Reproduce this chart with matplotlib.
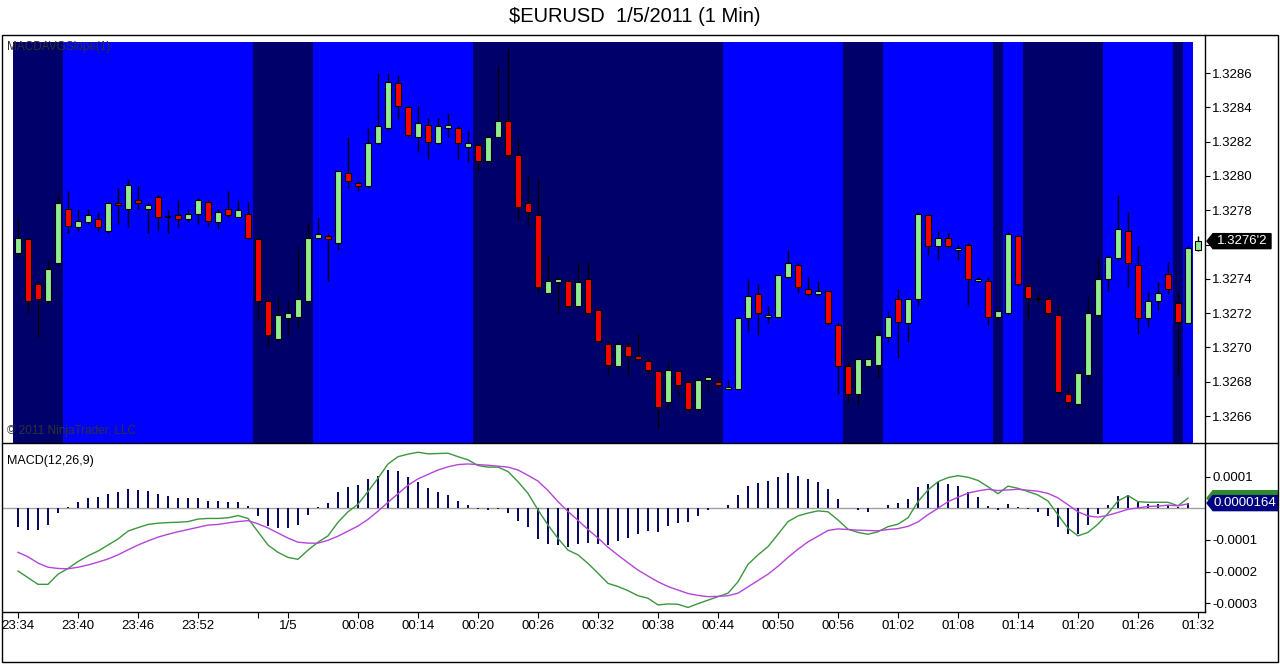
import numpy as np
import matplotlib
matplotlib.use('Agg')
from matplotlib import pyplot as plt
from matplotlib.patches import Rectangle, Polygon
from matplotlib.lines import Line2D
from matplotlib.transforms import blended_transform_factory

plt.rcParams['font.family'] = ['Liberation Sans', 'DejaVu Sans']

# 1 minute bars, 23:34 -> 01:32
opens = [1.32755, 1.32763, 1.32737, 1.32727, 1.32749, 1.32781, 1.32770, 1.32773, 1.32775, 1.32768,
         1.32784, 1.32781, 1.32786, 1.32781, 1.32788, 1.32776, 1.32777, 1.32775, 1.32778, 1.32785,
         1.32773, 1.32781, 1.32776, 1.32778, 1.32763, 1.32727, 1.32705, 1.32717, 1.32718, 1.32727,
         1.32764, 1.32765, 1.32761, 1.32802, 1.32796, 1.32794, 1.32819, 1.32828, 1.32854, 1.32840,
         1.32823, 1.32830, 1.32819, 1.32828, 1.32828, 1.32817, 1.32818, 1.32809, 1.32823, 1.32832,
         1.32812, 1.32784, 1.32777, 1.32732, 1.32738, 1.32739, 1.32724, 1.32740, 1.32722, 1.32702,
         1.32689, 1.32701, 1.32695, 1.32692, 1.32686, 1.32668, 1.32686, 1.32680, 1.32664, 1.32681,
         1.32680, 1.32676, 1.32676, 1.32717, 1.32731, 1.32718, 1.32718, 1.32741, 1.32748, 1.32734,
         1.32731, 1.32733, 1.32713, 1.32689, 1.32673, 1.32689, 1.32690, 1.32706, 1.32728, 1.32714,
         1.32728, 1.32777, 1.32759, 1.32764, 1.32757, 1.32760, 1.32739, 1.32739, 1.32718, 1.32720,
         1.32765, 1.32736, 1.32728, 1.32728, 1.32719, 1.32673, 1.32667, 1.32684, 1.32719, 1.32740,
         1.32752, 1.32768, 1.32748, 1.32717, 1.32727, 1.32743, 1.32726, 1.32714, 1.32757]
highs = [1.32776, 1.32764, 1.32739, 1.32751, 1.32790, 1.32791, 1.32781, 1.32781, 1.32779, 1.32785,
         1.32793, 1.32798, 1.32794, 1.32785, 1.32789, 1.32780, 1.32786, 1.32781, 1.32787, 1.32786,
         1.32781, 1.32791, 1.32786, 1.32785, 1.32764, 1.32728, 1.32730, 1.32727, 1.32759, 1.32772,
         1.32776, 1.32767, 1.32803, 1.32823, 1.32797, 1.32828, 1.32860, 1.32860, 1.32859, 1.32841,
         1.32841, 1.32834, 1.32834, 1.32837, 1.32829, 1.32826, 1.32819, 1.32824, 1.32864, 1.32874,
         1.32823, 1.32800, 1.32798, 1.32754, 1.32741, 1.32740, 1.32749, 1.32750, 1.32723, 1.32704,
         1.32703, 1.32703, 1.32708, 1.32693, 1.32687, 1.32692, 1.32687, 1.32681, 1.32682, 1.32684,
         1.32683, 1.32681, 1.32718, 1.32740, 1.32737, 1.32724, 1.32742, 1.32757, 1.32749, 1.32741,
         1.32739, 1.32733, 1.32715, 1.32692, 1.32693, 1.32693, 1.32710, 1.32721, 1.32734, 1.32729,
         1.32779, 1.32778, 1.32768, 1.32767, 1.32760, 1.32761, 1.32741, 1.32741, 1.32721, 1.32768,
         1.32766, 1.32737, 1.32732, 1.32731, 1.32725, 1.32678, 1.32687, 1.32730, 1.32752, 1.32754,
         1.32789, 1.32779, 1.32759, 1.32733, 1.32738, 1.32750, 1.32731, 1.32759, 1.32765]
lows = [1.32753, 1.32720, 1.32706, 1.32726, 1.32748, 1.32767, 1.32768, 1.32772, 1.32768, 1.32767,
        1.32772, 1.32770, 1.32781, 1.32767, 1.32768, 1.32767, 1.32770, 1.32773, 1.32772, 1.32771,
        1.32769, 1.32776, 1.32776, 1.32763, 1.32716, 1.32701, 1.32704, 1.32707, 1.32712, 1.32726,
        1.32763, 1.32739, 1.32757, 1.32793, 1.32791, 1.32793, 1.32818, 1.32827, 1.32833, 1.32823,
        1.32814, 1.32810, 1.32818, 1.32823, 1.32810, 1.32808, 1.32803, 1.32808, 1.32822, 1.32810,
        1.32774, 1.32771, 1.32732, 1.32731, 1.32720, 1.32723, 1.32723, 1.32719, 1.32703, 1.32684,
        1.32688, 1.32684, 1.32692, 1.32684, 1.32653, 1.32664, 1.32672, 1.32663, 1.32663, 1.32674,
        1.32677, 1.32676, 1.32675, 1.32709, 1.32707, 1.32714, 1.32717, 1.32740, 1.32732, 1.32730,
        1.32730, 1.32713, 1.32673, 1.32668, 1.32666, 1.32688, 1.32683, 1.32703, 1.32694, 1.32703,
        1.32724, 1.32754, 1.32751, 1.32758, 1.32751, 1.32724, 1.32738, 1.32713, 1.32716, 1.32719,
        1.32736, 1.32717, 1.32726, 1.32718, 1.32673, 1.32664, 1.32666, 1.32679, 1.32718, 1.32733,
        1.32751, 1.32735, 1.32708, 1.32712, 1.32722, 1.32731, 1.32684, 1.32714, 1.32756]
closes = [1.32764, 1.32727, 1.32728, 1.32746, 1.32784, 1.32771, 1.32774, 1.32777, 1.32770, 1.32784,
          1.32783, 1.32795, 1.32784, 1.32783, 1.32776, 1.32776, 1.32775, 1.32778, 1.32786, 1.32774,
          1.32779, 1.32777, 1.32780, 1.32764, 1.32727, 1.32707, 1.32719, 1.32720, 1.32728, 1.32764,
          1.32766, 1.32763, 1.32803, 1.32797, 1.32794, 1.32819, 1.32829, 1.32855, 1.32841, 1.32824,
          1.32831, 1.32820, 1.32829, 1.32830, 1.32819, 1.32819, 1.32809, 1.32823, 1.32832, 1.32812,
          1.32782, 1.32779, 1.32735, 1.32739, 1.32740, 1.32724, 1.32738, 1.32720, 1.32704, 1.32690,
          1.32702, 1.32695, 1.32693, 1.32687, 1.32665, 1.32687, 1.32678, 1.32664, 1.32681, 1.32683,
          1.32678, 1.32677, 1.32717, 1.32730, 1.32720, 1.32719, 1.32742, 1.32749, 1.32735, 1.32731,
          1.32733, 1.32714, 1.32689, 1.32673, 1.32693, 1.32693, 1.32707, 1.32718, 1.32715, 1.32728,
          1.32778, 1.32759, 1.32764, 1.32759, 1.32758, 1.32740, 1.32740, 1.32718, 1.32721, 1.32766,
          1.32737, 1.32729, 1.32729, 1.32720, 1.32674, 1.32668, 1.32685, 1.32720, 1.32740, 1.32753,
          1.32769, 1.32749, 1.32717, 1.32727, 1.32732, 1.32734, 1.32715, 1.32758, 1.32762]

# MACDAVGSlope background: 1 = rising (bright blue), 0 = falling (dark)
slope_up = [0, 0, 0, 0, 0, 1, 1, 1, 1, 1, 1, 1, 1, 1, 1, 1, 1, 1, 1, 1,
            1, 1, 1, 1, 0, 0, 0, 0, 0, 0, 1, 1, 1, 1, 1, 1, 1, 1, 1, 1,
            1, 1, 1, 1, 1, 1, 0, 0, 0, 0, 0, 0, 0, 0, 0, 0, 0, 0, 0, 0,
            0, 0, 0, 0, 0, 0, 0, 0, 0, 0, 0, 1, 1, 1, 1, 1, 1, 1, 1, 1,
            1, 1, 1, 0, 0, 0, 0, 1, 1, 1, 1, 1, 1, 1, 1, 1, 1, 1, 0, 1,
            1, 0, 0, 0, 0, 0, 0, 0, 0, 1, 1, 1, 1, 1, 1, 1, 0, 1]

# MACD(12,26,9) in units of 0.0001
macd = [-1.98, -2.19, -2.40, -2.40, -2.08, -1.90, -1.68, -1.50, -1.35, -1.16,
        -0.97, -0.72, -0.61, -0.51, -0.47, -0.45, -0.44, -0.42, -0.34, -0.32,
        -0.32, -0.30, -0.23, -0.32, -0.74, -1.16, -1.39, -1.55, -1.61, -1.32,
        -1.07, -0.87, -0.44, -0.11, 0.13, 0.53, 0.95, 1.40, 1.63, 1.71,
        1.77, 1.72, 1.73, 1.74, 1.63, 1.53, 1.35, 1.30, 1.30, 1.16,
        0.84, 0.47, -0.05, -0.53, -0.95, -1.32, -1.47, -1.74, -2.05, -2.37,
        -2.47, -2.60, -2.76, -2.84, -3.05, -3.02, -3.03, -3.13, -3.01, -2.90,
        -2.79, -2.68, -2.32, -1.77, -1.47, -1.21, -0.82, -0.42, -0.24, -0.15,
        -0.08, -0.11, -0.37, -0.66, -0.76, -0.82, -0.74, -0.58, -0.50, -0.30,
        0.21, 0.58, 0.84, 0.97, 1.03, 0.98, 0.88, 0.68, 0.46, 0.70,
        0.63, 0.53, 0.42, 0.23, -0.21, -0.63, -0.87, -0.76, -0.50, -0.16,
        0.23, 0.40, 0.21, 0.19, 0.19, 0.19, 0.08, 0.32]
signal = [-1.39, -1.53, -1.73, -1.86, -1.90, -1.91, -1.86, -1.79, -1.70, -1.60,
          -1.47, -1.31, -1.16, -1.03, -0.91, -0.82, -0.74, -0.67, -0.60, -0.53,
          -0.51, -0.46, -0.42, -0.39, -0.49, -0.62, -0.78, -0.94, -1.07, -1.10,
          -1.10, -1.01, -0.88, -0.72, -0.56, -0.35, -0.09, 0.19, 0.46, 0.73,
          0.93, 1.07, 1.21, 1.31, 1.38, 1.40, 1.38, 1.36, 1.33, 1.30,
          1.21, 1.04, 0.86, 0.56, 0.21, -0.10, -0.38, -0.67, -0.94, -1.23,
          -1.48, -1.72, -1.95, -2.14, -2.32, -2.47, -2.58, -2.69, -2.75, -2.79,
          -2.78, -2.76, -2.68, -2.48, -2.28, -2.08, -1.83, -1.55, -1.29, -1.06,
          -0.88, -0.70, -0.65, -0.67, -0.69, -0.70, -0.71, -0.67, -0.64, -0.57,
          -0.43, -0.20, 0.00, 0.21, 0.35, 0.48, 0.55, 0.60, 0.56, 0.58,
          0.60, 0.57, 0.54, 0.47, 0.33, 0.11, -0.11, -0.24, -0.28, -0.22,
          -0.13, -0.03, 0.01, 0.06, 0.07, 0.10, 0.08, 0.14]
hist = [-0.58, -0.68, -0.68, -0.53, -0.16, 0.04, 0.21, 0.34, 0.37, 0.46,
        0.53, 0.62, 0.59, 0.56, 0.45, 0.39, 0.34, 0.31, 0.34, 0.24,
        0.24, 0.21, 0.21, 0.07, -0.23, -0.56, -0.61, -0.61, -0.53, -0.20,
        0.04, 0.17, 0.52, 0.67, 0.74, 0.91, 1.02, 1.21, 1.19, 0.99,
        0.83, 0.65, 0.52, 0.42, 0.23, 0.11, -0.03, -0.06, -0.01, -0.14,
        -0.40, -0.58, -0.97, -1.12, -1.16, -1.21, -1.12, -1.08, -1.12, -1.16,
        -1.03, -0.93, -0.80, -0.71, -0.74, -0.55, -0.45, -0.42, -0.23, -0.06,
        0.00, 0.11, 0.42, 0.72, 0.80, 0.87, 0.99, 1.11, 1.02, 0.93,
        0.83, 0.61, 0.30, 0.02, -0.06, -0.11, 0.01, 0.11, 0.16, 0.30,
        0.67, 0.77, 0.83, 0.77, 0.71, 0.52, 0.36, 0.07, -0.06, 0.13,
        0.04, -0.03, -0.11, -0.23, -0.58, -0.80, -0.81, -0.53, -0.17, 0.10,
        0.39, 0.42, 0.23, 0.14, 0.14, 0.10, 0.04, 0.16]

tick_bars = [0, 6, 12, 18, 24, 27, 34, 40, 46, 52, 58, 64, 70, 76, 82, 88, 94, 100, 106, 112, 118]
tick_labels = ['23:34', '23:40', '23:46', '23:52', '', '1/5', '00:08', '00:14', '00:20', '00:26',
               '00:32', '00:38', '00:44', '00:50', '00:56', '01:02', '01:08', '01:14', '01:20',
               '01:26', '01:32']
price_ticks = [1.3266, 1.3268, 1.3270, 1.3272, 1.3274, 1.3276, 1.3278, 1.3280, 1.3282, 1.3284, 1.3286]
macd_ticks = [0.0001, -0.0001, -0.0002, -0.0003]
price_tag = "1.3276'2"
macd_tag = "0.0000164"

W, H = 1280, 664
def fx(px):
    return px / W
def fy(py):
    return 1 - py / H

fig = plt.figure(figsize=(12.8, 6.64), dpi=100)
fig.patch.set_facecolor('white')

ax1 = fig.add_axes([fx(3), fy(443), fx(1205) - fx(3), fy(35) - fy(443)])
ax2 = fig.add_axes([fx(3), fy(612), fx(1205) - fx(3), fy(443) - fy(612)])

xl = (-1.5, 118.7)
n = len(closes)
x = np.arange(n)

# ---- price panel
ax1.set_xlim(*xl)
ax1.set_ylim(1.326443, 1.328822)
band_top = (443 - 42) / 408.0
start = 0
for i in range(1, len(slope_up) + 1):
    if i == len(slope_up) or slope_up[i] != slope_up[start]:
        col = '#0000ff' if slope_up[start] else '#00006b'
        ax1.axvspan(start - 0.5, i - 0.5, ymin=0, ymax=band_top, color=col, lw=0, zorder=0)
        start = i

ax1.vlines(x, lows, highs, color='black', lw=1, zorder=2)
for i in range(n):
    o, c = opens[i], closes[i]
    if abs(c - o) < 0.000005:
        ax1.hlines(c, i - 0.3, i + 0.3, color='black', lw=1.2, zorder=3)
        continue
    col = '#90ee90' if c > o else '#ff0000'
    ax1.add_patch(Rectangle((i - 0.3, min(o, c)), 0.6, abs(c - o), facecolor=col,
                            edgecolor='black', lw=0.8, zorder=3))

for s in ['top', 'left', 'bottom']:
    ax1.spines[s].set_visible(False)
ax1.spines['right'].set_linewidth(1)
ax1.set_xticks([])
ax1.yaxis.tick_right()
ax1.set_yticks(price_ticks)
# the 1.3276 label sits under the last-price tag
ax1.set_yticklabels(['' if abs(p - 1.3276) < 1e-6 else '%.4f' % p for p in price_ticks])
ax1.tick_params(axis='y', direction='out', length=3.6, width=0.8, pad=1.5, labelsize=9.5)

# price tag
bt1 = blended_transform_factory(ax1.transAxes, ax1.transData)
def ax_x(px):
    return (px - 3) / 1202.0
hh = 7.5 / 171500.0
lp = closes[-1]
ax1.add_patch(Polygon([(ax_x(1207), lp), (ax_x(1213), lp + hh), (ax_x(1271), lp + hh),
                       (ax_x(1271), lp - hh), (ax_x(1213), lp - hh)], closed=True,
                      transform=bt1, facecolor='black', edgecolor='black', clip_on=False, zorder=10))
ax1.text(ax_x(1242), lp, price_tag, transform=bt1, color='white', ha='center', va='center',
         fontsize=9.5, clip_on=False, zorder=11)

# ---- MACD panel
ax2.set_xlim(*xl)
ax2.set_ylim(-3.274e-4, 2.062e-4)
ax2.axhline(0, color='#a0a0a0', lw=1, zorder=1)
scale = 1e-4
xm = np.arange(len(macd))
ax2.bar(xm, np.array(hist) * scale, width=0.28, color='#0a0a5e', zorder=2)
ax2.plot(xm, np.array(macd) * scale, color='#3c963c', lw=1, zorder=3)
ax2.plot(xm, np.array(signal) * scale, color='#b444dc', lw=1, zorder=3)

for s in ['top', 'left']:
    ax2.spines[s].set_visible(False)
ax2.spines['right'].set_linewidth(1)
ax2.spines['bottom'].set_linewidth(1)
ax2.yaxis.tick_right()
ax2.set_yticks(macd_ticks)
ax2.set_yticklabels(['%.4f' % v for v in macd_ticks])
ax2.tick_params(axis='y', direction='out', length=3.6, width=0.8, pad=1.5, labelsize=9.5)
ax2.set_xticks(tick_bars)
ax2.set_xticklabels(tick_labels)
ax2.tick_params(axis='x', direction='out', length=4.3, width=0.8, pad=1.5, labelsize=9.5)

bt2 = blended_transform_factory(ax2.transAxes, ax2.transData)
vh = 7.5 / 31.67 * scale
for val, col, txt in [(macd[-1] * scale, '#2e8b2e', ''), (0.0000164, '#000080', macd_tag)]:
    ax2.add_patch(Polygon([(ax_x(1207), val), (ax_x(1213), val + vh), (ax_x(1278), val + vh),
                           (ax_x(1278), val - vh), (ax_x(1213), val - vh)], closed=True,
                          transform=bt2, facecolor=col, edgecolor=col, clip_on=False, zorder=10))
    if txt:
        ax2.text(ax_x(1245), val, txt, transform=bt2, color='white', ha='center', va='center',
                 fontsize=9.5, clip_on=False, zorder=11)

# ---- texts and frame
fig.text(fx(635), fy(17), r'\$EURUSD  1/5/2011 (1 Min)', ha='center', va='center', fontsize=14.5)
fig.text(fx(7), fy(47), 'MACDAVGSlope(1)', ha='left', va='center', fontsize=8.5, color='#303030')
fig.text(fx(7), fy(431), '\u00a9 2011 NinjaTrader, LLC', ha='left', va='center', fontsize=8.5,
         color='#303030')
fig.text(fx(7), fy(461), 'MACD(12,26,9)', ha='left', va='center', fontsize=9)

fig.add_artist(Rectangle((fx(1.5), fy(661.5)), fx(1277.5) - fx(1.5), fy(34.5) - fy(661.5),
                         transform=fig.transFigure, fill=False, edgecolor='black', lw=1, zorder=20))
fig.add_artist(Line2D([fx(1.5), fx(1277.5)], [fy(443), fy(443)], transform=fig.transFigure,
                      color='black', lw=1, zorder=20))

fig.savefig('out.png', dpi=100)
